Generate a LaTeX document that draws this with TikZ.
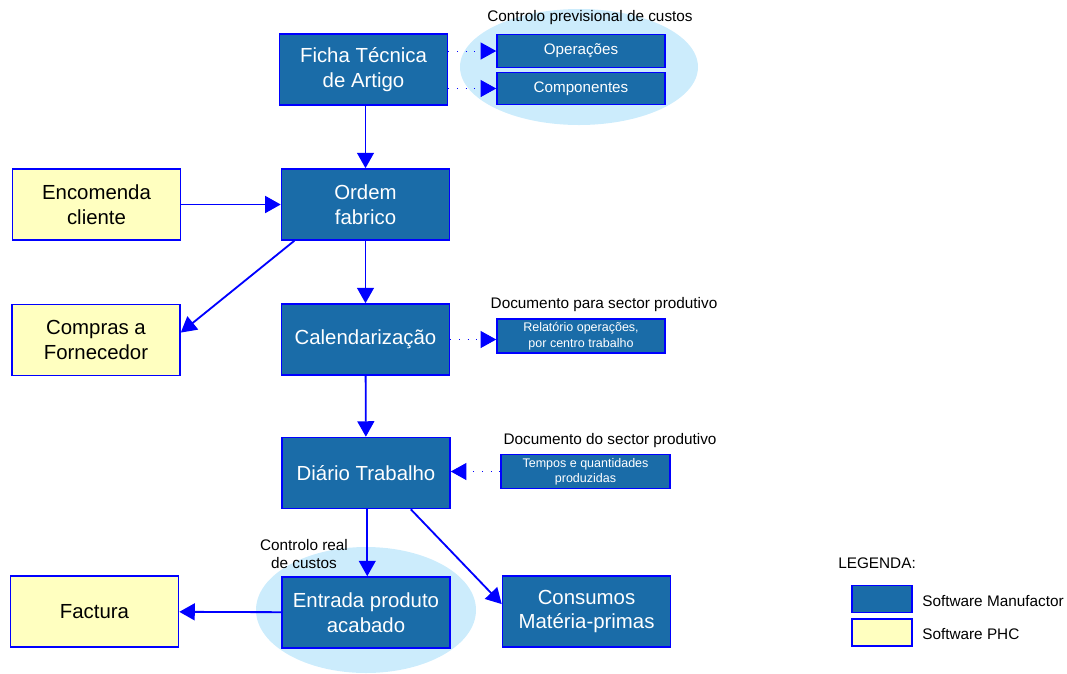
\documentclass[tikz,border=0pt]{standalone}
\usepackage{fontspec}
\setmainfont{Liberation Sans}
\usetikzlibrary{arrows.meta}

\definecolor{manufblue}{RGB}{26,108,168}
\definecolor{phcyellow}{RGB}{255,255,192}
\definecolor{boxline}{RGB}{0,0,255}
\definecolor{halo}{RGB}{204,236,252}

\begin{document}
\begin{tikzpicture}[x=0.025cm, y=-0.025cm,
    manuf/.style={draw=boxline, fill=manufblue, line width=1.1pt, text=white, align=center,
        inner sep=0pt, minimum width=4.2cm, minimum height=1.775cm,
        font=\fontsize{14.5}{17.7}\selectfont},
    phc/.style={manuf, fill=phcyellow, text=black},
    detail/.style={manuf, minimum height=0.825cm, font=\fontsize{10.8}{13}\selectfont},
    note/.style={manuf, minimum height=0.85cm, font=\fontsize{8.9}{11}\selectfont},
    caption/.style={inner sep=0pt, align=center, font=\fontsize{10.9}{12.8}\selectfont},
    flow/.style={draw=boxline, line width=1.3pt, -{Triangle[length=11pt, width=12pt]}},
    hint/.style={draw=boxline, line width=0.7pt, dash pattern=on 0.7pt off 5.5pt,
        -{Triangle[length=11pt, width=12pt]}}]

    \useasboundingbox (0,0) rectangle (1067,673);

        % Halos:
        \fill[halo] (579,67) ellipse [x radius=119, y radius=58];
        \fill[halo] (366,610) ellipse [x radius=110, y radius=63];

        % Main flow:
        \node[manuf] (ficha) at (363.5,69.5) {Ficha Técnica\\de Artigo};
        \node[manuf] (ordem) at (365.5,204.5) {Ordem\\fabrico};
        \node[manuf] (calend) at (365.5,339.5) {Calendarização};
        \node[manuf] (diario) at (366,473) {Diário Trabalho};
        \node[manuf] (entrada) at (366,612.5) {Entrada produto\\acabado};
        \node[manuf] (consumos) at (586.5,611.5) {Consumos\\Matéria-primas};

        % PHC side:
        \node[phc] (encomenda) at (96.5,204.5) {Encomenda\\cliente};
        \node[phc] (compras) at (96,340) {Compras a\\Fornecedor};
        \node[phc] (factura) at (94.5,611.5) {Factura};

        % Documents:
        \node[detail] (ops) at (581,51) {Operações};
        \node[detail, minimum height=0.8cm] (comp) at (581,88.5) {Componentes};
        \node[note] (relat) at (581,336) {Relatório operações,\\por centro trabalho};
        \node[note, minimum width=4.225cm] (tempos) at (585.5,471.5) {Tempos e quantidades\\produzidas};

        \node[caption] (prev) at (590,18) {Controlo previsional de custos};
        \node[caption] (para) at (604,305) {Documento para sector produtivo};
        \node[caption] (dosec) at (610,441) {Documento do sector produtivo};
        \node[caption] (real) at (304,554) {Controlo real\\de custos};

        % Arrows:
        \draw[flow] (ficha.south -| ordem) -- (ordem);
        \draw[flow] (encomenda) -- (ordem);
        \draw[flow] (ordem.207) -- (compras.5);
        \draw[flow] (ordem) -- (calend);
        \draw[flow] (calend) -- (diario);
        \draw[flow] (diario.-88) -- (entrada.north -| diario.-88);
        \draw[flow] (diario.-39) -- (consumos.175);
        \draw[flow] (entrada) -- (factura);

        \draw[hint] (ficha.east |- ops.west) -- (ops.west);
        \draw[hint] (ficha.east |- comp.west) -- (comp.west);
        \draw[hint] (calend.east) -- (calend.east -| relat.west);
        \draw[hint] (tempos.west) -- (tempos.west -| diario.east);

        % Legend:
        \node[caption, anchor=west] (legenda) at (838,563) {LEGENDA:};
        \node[manuf, minimum width=1.5cm, minimum height=0.675cm] (keym) at (882,599) {};
        \node[phc, minimum width=1.5cm, minimum height=0.675cm] (keyp) at (882,632.5) {};
        \node[caption, anchor=west] (keymtxt) at (922,601) {Software Manufactor};
        \node[caption, anchor=west] (keyptxt) at (922,634) {Software PHC};
\end{tikzpicture}
\end{document}
